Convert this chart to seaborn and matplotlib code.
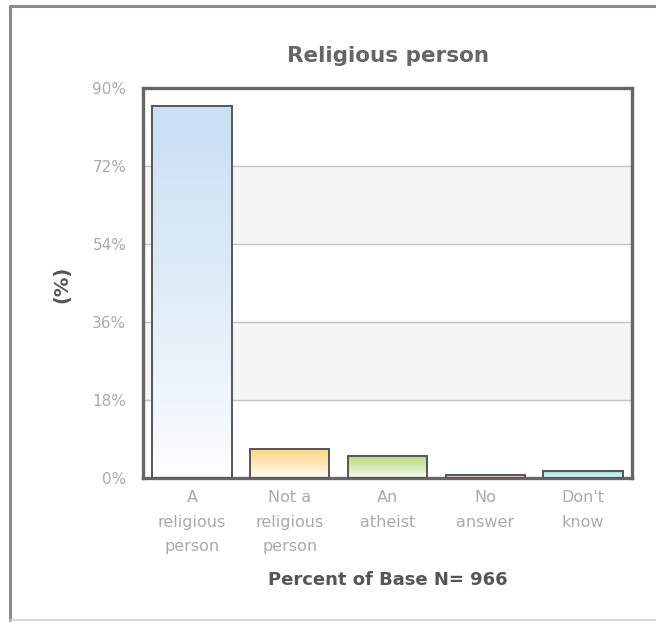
import numpy as np
import pandas as pd
import matplotlib
matplotlib.use("Agg")
import matplotlib.pyplot as plt
import seaborn as sns
from matplotlib.colors import LinearSegmentedColormap
from matplotlib.lines import Line2D

categories = ["A\nreligious\nperson", "Not a\nreligious\nperson", "An\natheist", "No\nanswer", "Don't\nknow"]
values = [85.9, 6.7, 5.0, 0.7, 1.7]
top_colors = ["#c9dff3", "#fbd780", "#b5d97a", "#f2b58f", "#8fd3d3"]
y_ticks = [0, 18, 36, 54, 72, 90]
title = "Religious person"
x_label = "Percent of Base N= 966"
y_label = "(%)"

df = pd.DataFrame({"category": categories, "value": values})

sns.set_theme(style="white")
plt.rcParams["font.family"] = ["DejaVu Sans"]

fig = plt.figure(figsize=(6.56, 6.22), dpi=100)
ax = fig.add_axes([143 / 656, 1 - 478 / 622, (632 - 143) / 656, (478 - 88) / 622])

sns.barplot(data=df, x="category", y="value", ax=ax, width=0.81,
            color="white", edgecolor="#555555", linewidth=1.4, zorder=2)
bars = list(ax.containers[0])

# alternating background bands and grid lines
for lo, hi in [(18, 36), (54, 72)]:
    ax.axhspan(lo, hi, color="#f5f5f5", zorder=0)
for t in y_ticks[1:-1]:
    ax.axhline(t, color="#c4c4c4", lw=1.0, zorder=0.5)

# vertical gradient fill inside each bar
for patch, c in zip(bars, top_colors):
    x0, y0 = patch.get_x(), patch.get_y()
    w, h = patch.get_width(), patch.get_height()
    cmap = LinearSegmentedColormap.from_list("g", ["#ffffff", c])
    grad = np.linspace(0, 1, 256).reshape(-1, 1) ** 0.8
    im = ax.imshow(grad, cmap=cmap, origin="lower", aspect="auto",
                   extent=[x0, x0 + w, y0, y0 + h], zorder=2.5)
    im.set_clip_path(patch)
    patch.set_facecolor("none")
    patch.set_zorder(3)

ax.set_xlim(-0.5, 4.5)
ax.set_ylim(0, 90)
ax.set_yticks(y_ticks)
ax.set_yticklabels([f"{t}%" for t in y_ticks], color="#aaaaaa", fontsize=11)
ax.set_xticks(range(len(categories)))
ax.set_xticklabels(categories, color="#aaaaaa", fontsize=11.5, linespacing=1.78)
ax.tick_params(axis="both", length=0, pad=9)
ax.tick_params(axis="y", pad=12)
ax.set_xlabel("")
ax.set_ylabel("")
for s in ax.spines.values():
    s.set_visible(True)
    s.set_color("#666666")
    s.set_linewidth(2.4)

fig.text(388 / 656, 1 - 56 / 622, title, ha="center", va="center",
         fontsize=15.5, fontweight="bold", color="#666666")
fig.text(388 / 656, 1 - 580 / 622, x_label, ha="center", va="center",
         fontsize=13, fontweight="bold", color="#555555")
fig.text(62 / 656, 1 - 284 / 622, y_label, ha="center", va="center",
         rotation=90, fontsize=14, fontweight="bold", color="#555555")

# outer frame
fig.add_artist(Line2D([10 / 656, 10 / 656], [1 - 6 / 622, 1 - 620 / 622],
                      transform=fig.transFigure, color="#8a8a8a", lw=2.2))
fig.add_artist(Line2D([10 / 656, 1], [1 - 6 / 622, 1 - 6 / 622],
                      transform=fig.transFigure, color="#8a8a8a", lw=2.2))
fig.add_artist(Line2D([10 / 656, 1], [1 - 620 / 622, 1 - 620 / 622],
                      transform=fig.transFigure, color="#d0d0d0", lw=1.2))

fig.savefig("out.png", dpi=100)
